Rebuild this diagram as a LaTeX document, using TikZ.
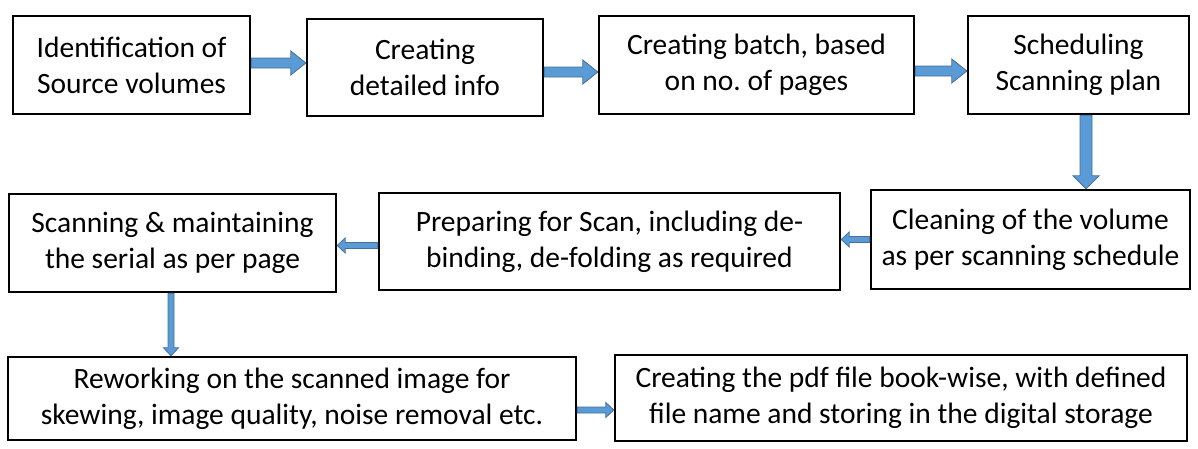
\documentclass[tikz,border=0pt]{standalone}
\usepackage{fontspec}
\setmainfont{Carlito}
\usetikzlibrary{calc}
\definecolor{arrowfill}{HTML}{5B9BD5}
\definecolor{arrowline}{HTML}{41719C}
\frenchspacing

\begin{document}
\begin{tikzpicture}[x=1pt, y=-1pt,
    stage/.style={draw, line width=2.4pt, align=center, inner sep=0pt,
      font=\fontsize{29.5}{36}\selectfont},
    block/.style n args={3}{draw=arrowline, fill=arrowfill, line width=0.8pt,
      to path={($(\tikztostart)!#1!90:(\tikztotarget)$)
        -- ($(\tikztotarget)!#3!(\tikztostart)!#1!-90:(\tikztostart)$)
        -- ($(\tikztotarget)!#3!(\tikztostart)!#2!-90:(\tikztostart)$)
        -- (\tikztotarget)
        -- ($(\tikztotarget)!#3!(\tikztostart)!#2!90:(\tikztostart)$)
        -- ($(\tikztotarget)!#3!(\tikztostart)!#1!90:(\tikztostart)$)
        -- ($(\tikztostart)!#1!-90:(\tikztotarget)$) -- cycle}},
    bigarrow/.style={block={5pt}{12pt}{15pt}},
    smallarrow/.style={block={3pt}{7.5pt}{8pt}}]
  \useasboundingbox (0,0) rectangle (1198,448);

  % top row
  \node[stage, minimum width=237pt, minimum height=98pt] (ID) at (131.5,65)
    {Identification of\\Source volumes};
  \node[stage, minimum width=236pt, minimum height=97pt] (DI) at (425,67.5)
    {Creating\\detailed info};
  \node[stage, minimum width=315pt, minimum height=98pt] (CB) at (756.5,65)
    {Creating batch, based\\on no. of pages};
  \node[stage, minimum width=221pt, minimum height=98pt] (SP) at (1078.5,65)
    {Scheduling\\Scanning plan};

  % middle row
  \node[stage, minimum width=319pt, minimum height=99pt] (CV) at (1030.5,239.5)
    {Cleaning of the volume\\as per scanning schedule};
  \node[stage, minimum width=461pt, minimum height=97pt] (PS) at (609.5,241.5)
    {Preparing for Scan, including de-\\binding, de-folding as required};
  \node[stage, minimum width=327pt, minimum height=98pt] (SM) at (172.5,243)
    {Scanning \& maintaining\\the serial as per page};

  % bottom row
  \node[stage, minimum width=568pt, minimum height=83pt] (RW) at (292,398.5)
    {Reworking on the scanned image for\\skewing, image quality, noise removal etc.};
  \node[stage, minimum width=572pt, minimum height=86pt] (PDF) at (901,398)
    {Creating the pdf file book-wise, with defined\\file name and storing in the digital storage};

  \draw[bigarrow] ([yshift=2pt]ID.east) to ([yshift=2pt]ID.east -| DI.west);
  \draw[bigarrow] ([yshift=-4.5pt]DI.east) to ([yshift=-4.5pt]DI.east -| CB.west);
  \draw[bigarrow] ([yshift=-6pt]CB.east) to ([yshift=-6pt]CB.east -| SP.west);
  \draw[block={6pt}{13pt}{13pt}] ([xshift=7.5pt]SP.south) to ([xshift=7.5pt]SP.south |- CV.north);
  \draw[smallarrow] (CV.west) to (CV.west -| PS.east);
  \draw[smallarrow] ([yshift=-4pt]PS.west) to ([yshift=-4pt]PS.west -| SM.east);
  \draw[smallarrow] ([xshift=-1.5pt]SM.south) to ([xshift=-1.5pt]SM.south |- RW.north);
  \draw[smallarrow] ([yshift=-11.5pt]RW.east) to ([yshift=-11.5pt]RW.east -| PDF.west);
\end{tikzpicture}
\end{document}
